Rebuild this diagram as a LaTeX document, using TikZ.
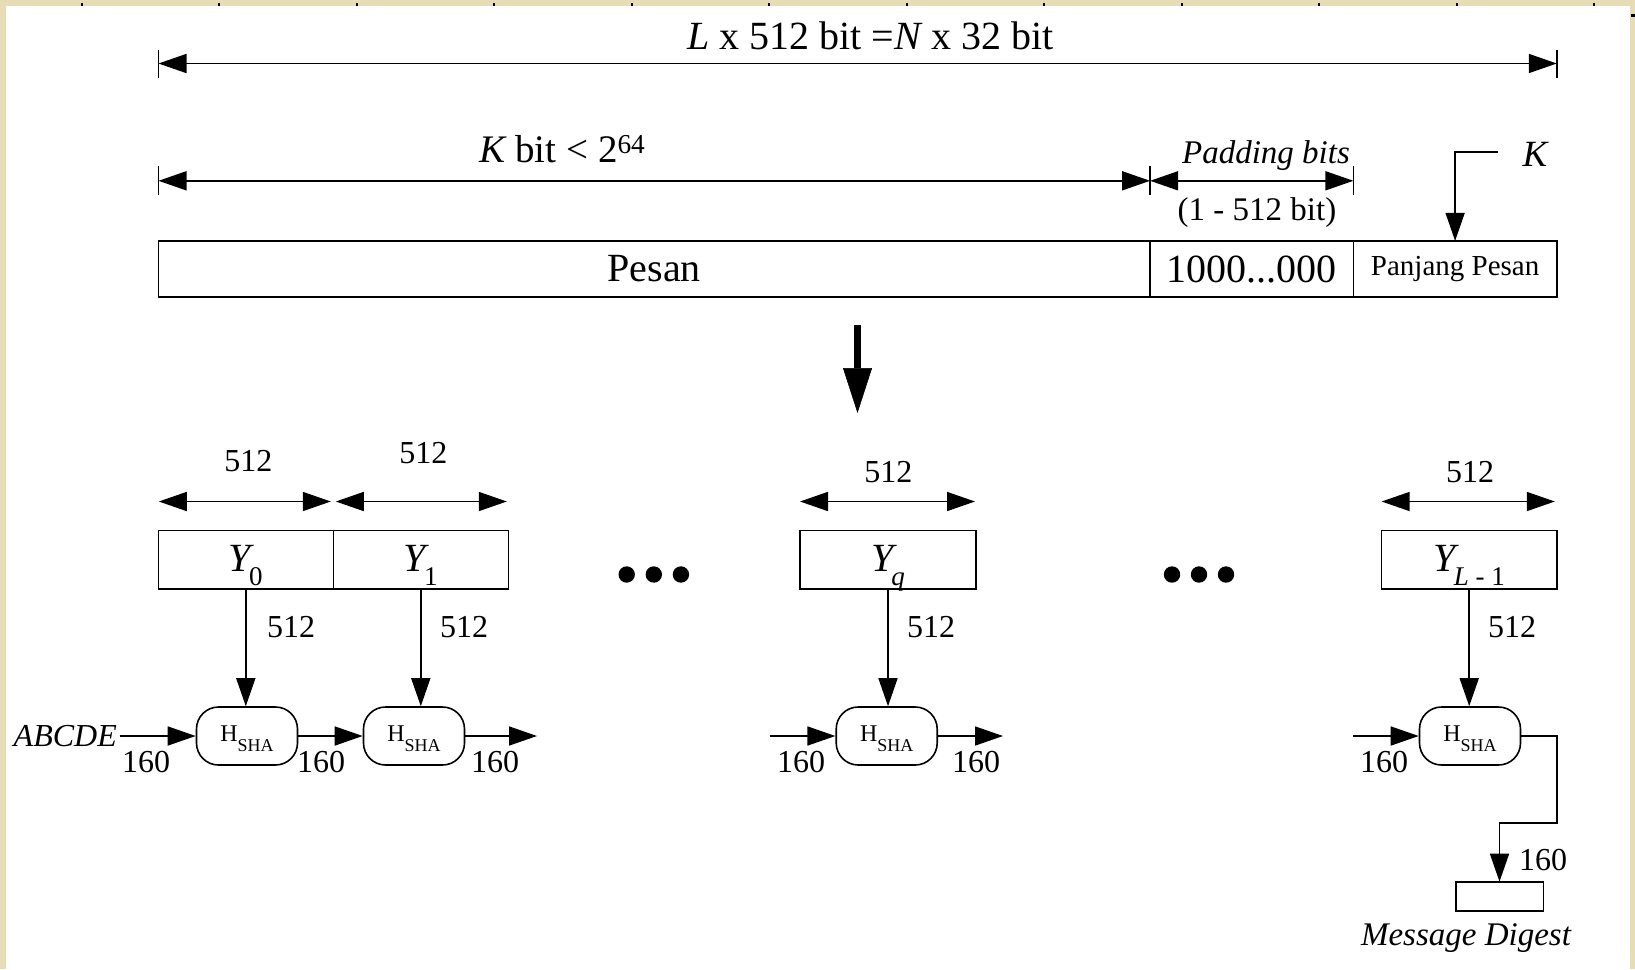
\documentclass[tikz,border=0pt]{standalone}
\usepackage{fontspec}
\setmainfont{Liberation Serif}
\usetikzlibrary{arrows.meta,calc}

\definecolor{paper}{HTML}{E6DDB6}

% font size helper (size in pt, baseline = size)
\newcommand\fsz[1]{\fontsize{#1}{#1}\selectfont}
% block label Y with a large lowered index
\newcommand\Yblk[1]{{\itshape Y}\kern-2pt\raisebox{-13.3pt}{\fsz{27}#1}}
% compression function label
\newcommand\Hsha{H\raisebox{-10pt}{\fsz{18}SHA}}

\begin{document}
\begin{tikzpicture}[x=1pt,y=-1pt,
  ln/.style={line width=1.6pt},
  tri/.style={-{Triangle[length=28pt,width=19pt]}},
  dim/.style={{Triangle[length=28pt,width=19pt]}-{Triangle[length=28pt,width=19pt]}},
  cell/.style={draw,ln,inner sep=0pt,outer sep=0pt},
  ybox/.style={cell,minimum width=175pt,minimum height=58.5pt,
    text height=24pt,text depth=0pt,font=\fsz{40},anchor=north west},
  hbox/.style={draw,ln,rounded corners=22pt,minimum width=101pt,minimum height=58pt,
    text height=17pt,text depth=6pt,inner sep=0pt,font=\fsz{24}},
  num/.style={font=\fsz{32},inner sep=0pt,anchor=base},
  txt/.style={inner sep=0pt,anchor=base}]

% paper background and white sheet
\fill[paper] (0,0) rectangle (1635,969);
\fill[white] (6,6) rectangle (1630,969);
\useasboundingbox (0,0) rectangle (1635,969);
\foreach \k in {0,...,11}
  \fill[black] ({81.7+137.5*\k-1.2},2.5) rectangle ++(2.4,3.6);
\fill[black] (1631,14) rectangle (1635,16.5);

% ---- overall length
\coordinate (ta) at (158.5,63.5);
\coordinate (tb) at (1556.8,63.5);
\draw[ln,dim] (ta) -- (tb);
\draw[ln] (ta) ++(0,-14) -- ++(0,28);
\draw[ln] (tb) ++(0,-14) -- ++(0,28);
\node[txt,font=\fsz{40}] (ttl) at (870.5,49) {{\itshape L} x 512 bit ={\itshape N} x 32 bit};

% ---- message and padding lengths
\coordinate (ka) at (158.5,180.8);
\coordinate (kb) at (1150.1,180.8);
\coordinate (pb) at (1353.4,180.8);
\draw[ln,dim] (ka) -- (kb);
\draw[ln,dim] (kb) -- (pb);
\foreach \c in {ka,kb,pb} \draw[ln] (\c) ++(0,-14.5) -- ++(0,29);
\node[txt,font=\fsz{39}] (kbit) at (562.5,162.7) {{\itshape K} bit < 2\textsuperscript{64}};
\node[txt,font=\fsz{33}\itshape] (pad) at (1266,163) {Padding bits};
\node[txt,font=\fsz{33}] (padr) at (1257,220) {(1 - 512 bit)};

% ---- padded message
\node[cell,minimum width=991.6pt,minimum height=56.3pt,anchor=north west,font=\fsz{40}]
  (pesan) at (158.5,240.9) {Pesan};
\node[cell,minimum width=203.3pt,minimum height=56.3pt,anchor=north west,font=\fsz{40}]
  (padb) at (pesan.north east) {1000...000};
\node[cell,minimum width=203.4pt,minimum height=56.3pt,anchor=north west,font=\fsz{29}]
  (panj) at (padb.north east) {Panjang Pesan};

\coordinate (kk) at (1498,152);
\draw[ln,tri] (kk) -| (panj.north);
\node[txt,font=\fsz{37}\itshape] (klbl) at (1535,166) {K};

% ---- split into blocks
\coordinate (ba) at (857.5,325);
\coordinate (bb) at (857.5,413);
\draw[line width=7pt,-{Triangle[length=45pt,width=29pt,line width=0.5pt]}] (ba) -- (bb);

% ---- 512-bit blocks
\node[ybox] (y0) at (158.3,530.5) {\Yblk{0}};
\node[ybox] (y1) at (y0.north east) {\Yblk{1}};
\node[ybox,minimum width=176pt] (yq) at (800,530.5) {\Yblk{\itshape q}};
\node[ybox,minimum width=175.2pt] (yL) at (1381.6,530.5) {\Yblk{{\itshape L} - 1}};

\coordinate (d0a) at ($(y0.north west)+(0.5,-29)$);
\coordinate (d0b) at ($(y0.north east)+(-2.5,-29)$);
\coordinate (d1a) at ($(y1.north west)+(2.5,-29)$);
\coordinate (d1b) at ($(y1.north east)+(-1.5,-29)$);
\coordinate (dqa) at ($(yq.north west)+(0,-29)$);
\coordinate (dqb) at ($(yq.north east)+(-1,-29)$);
\coordinate (dLa) at ($(yL.north west)+(0,-29)$);
\coordinate (dLb) at ($(yL.north east)+(-2,-29)$);
\draw[ln,dim] (d0a) -- (d0b);
\draw[ln,dim] (d1a) -- (d1b);
\draw[ln,dim] (dqa) -- (dqb);
\draw[ln,dim] (dLa) -- (dLb);
\node[num] (s0) at (248.3,471.7) {512};
\node[num] (s1) at (423.3,463.3) {512};
\node[num] (sq) at (888.3,482.3) {512};
\node[num] (sL) at (1470,482.8) {512};

% ellipses between blocks
\foreach \x in {626.7,653.8,680.9,1172,1199,1226}
  \fill (\x,574.5) circle (8.2pt);

% ---- compression stages
\node[hbox] (h0) at (247,736) {\Hsha};
\node[hbox] (h1) at (414,736) {\Hsha};
\node[hbox] (hq) at (886.7,736) {\Hsha};
\node[hbox] (hL) at (1470,736) {\Hsha};

\draw[ln,tri] (y0.south) -- (y0.south |- h0.north);
\draw[ln,tri] (y1.south) -- (y1.south |- h1.north);
\draw[ln,tri] (yq.south) -- (yq.south |- hq.north);
\draw[ln,tri] (yL.south) -- (yL.south |- hL.north);
\node[num] (v0) at (291,637) {512};
\node[num] (v1) at (464,637) {512};
\node[num] (vq) at (931,637) {512};
\node[num] (vL) at (1512,637) {512};

\node[anchor=east,font=\fsz{32}\itshape,text height=21pt,text depth=0pt,inner sep=0pt,inner xsep=2.5pt]
  (abc) at (119.5,736) {ABCDE};
\coordinate (o1) at (537,736);
\coordinate (iq) at (769.5,736);
\coordinate (oq) at (1003,736);
\coordinate (iL) at (1353,736);
\draw[ln,tri] (abc.east) -- (h0.west);
\draw[ln,tri] (h0.east) -- (h1.west);
\draw[ln,tri] (h1.east) -- (o1);
\draw[ln,tri] (iq) -- (hq.west);
\draw[ln,tri] (hq.east) -- (oq);
\draw[ln,tri] (iL) -- (hL.west);

\node[num] (c0) at (146,772) {160};
\node[num] (c1) at (321,772) {160};
\node[num] (c2) at (495,772) {160};
\node[num] (c3) at (801,772) {160};
\node[num] (c4) at (976,772) {160};
\node[num] (c5) at (1384,772) {160};

% ---- digest output
\node[cell,minimum width=87.6pt,minimum height=29pt,anchor=north] (md) at (1499.5,881.7) {};
\coordinate (rt) at (1556.7,822.7);
\draw[ln,tri] (hL.east) -| (rt) -| (md.north);
\node[num] (c6) at (1543,870) {160};
\node[txt,font=\fsz{33}\itshape] (mdl) at (1466,945) {Message Digest};

\end{tikzpicture}
\end{document}
